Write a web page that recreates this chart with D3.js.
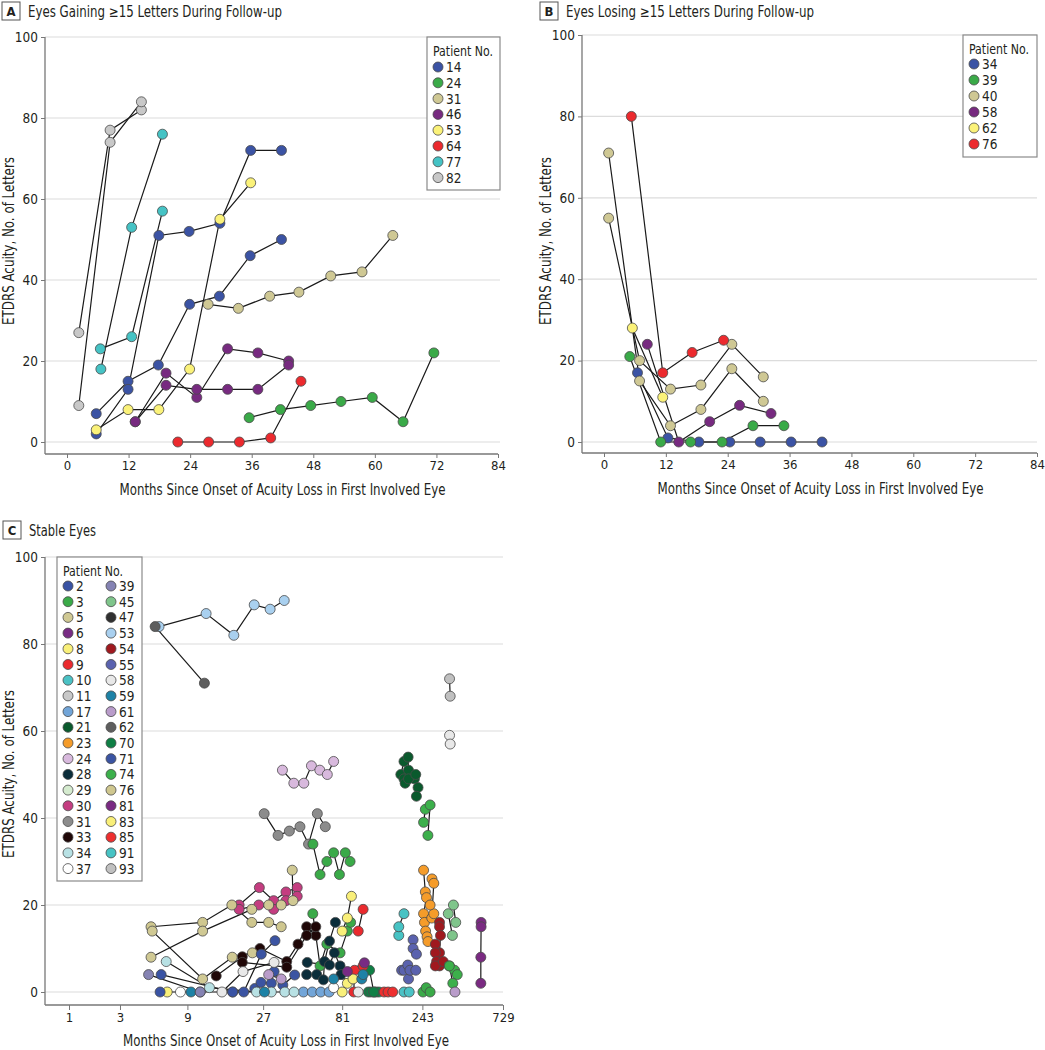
<!DOCTYPE html>
<html><head><meta charset="utf-8">
<script src="https://cdn.jsdelivr.net/npm/d3@7"></script>
<style>
body{margin:0;background:#fff}
svg{display:block}
text{font-family:"DejaVu Sans Condensed","DejaVu Sans",Roboto,sans-serif;fill:#231f20}
</style></head>
<body><svg id="chart" width="1045" height="1050"></svg>
<script>
// ---------- DATA ----------
const monthTicksAB = [0,12,24,36,48,60,72,84];
const monthTicksC = [1,3,9,27,81,243,729];
const acuityTicks = [0,20,40,60,80,100];

const patientsA = [14,24,31,46,53,64,77,82];
const colorsA = ["#3b53a4","#3aaa48","#cfc894","#772a80","#fbf279","#ec2a2e","#45c3c5","#c8c8c8"];
const seriesA = [
  {p:14, pts:[[5.7,7],[11.9,15],[17.8,19],[23.9,34],[29.7,36],[35.7,46],[41.8,50]]},
  {p:14, pts:[[5.7,2],[11.9,13],[17.9,51],[23.8,52],[29.8,54],[35.8,72],[41.8,72]]},
  {p:24, pts:[[35.5,6],[41.6,8],[47.5,9],[53.4,10],[59.5,11],[65.5,5],[71.5,22]]},
  {p:31, pts:[[27.5,34],[33.4,33],[39.5,36],[45.2,37],[51.4,41],[57.5,42],[63.5,51]]},
  {p:46, pts:[[13.3,5],[19.3,17],[25.3,11],[31.3,23],[37.2,22],[43.2,20]]},
  {p:46, pts:[[13.3,5],[19.3,14],[25.3,13],[31.3,13],[37.2,13],[43.2,19]]},
  {p:53, pts:[[5.7,3],[11.9,8],[17.9,8],[23.9,18],[29.8,55],[35.8,64]]},
  {p:64, pts:[[21.6,0],[27.6,0],[33.6,0],[39.7,1],[45.6,15]]},
  {p:77, pts:[[6.5,23],[12.6,26],[18.6,57]]},
  {p:77, pts:[[6.6,18],[12.6,53],[18.6,76]]},
  {p:82, pts:[[2.3,27],[8.4,77],[14.5,82]]},
  {p:82, pts:[[2.3,9],[8.4,74],[14.5,84]]}
];

const patientsB = [34,39,40,58,62,76];
const colorsB = ["#3b53a4","#3aaa48","#cfc894","#772a80","#fbf279","#ec2a2e"];
const seriesB = [
  {p:34, pts:[[6.5,17],[12.4,1],[18.4,0],[24.4,0],[30.3,0],[36.3,0],[42.3,0]]},
  {p:39, pts:[[5.0,21],[11.0,0],[16.8,0],[22.9,0],[28.9,4],[34.9,4]]},
  {p:40, pts:[[0.9,71],[6.9,15],[12.9,4],[18.8,8],[24.8,18],[30.9,10]]},
  {p:40, pts:[[0.9,55],[6.9,20],[12.9,13],[18.8,14],[24.8,24],[30.9,16]]},
  {p:58, pts:[[8.4,24],[14.5,0],[20.5,5],[26.3,9],[32.4,7]]},
  {p:62, pts:[[5.5,28],[11.4,11]]},
  {p:76, pts:[[5.3,80],[11.4,17],[17.1,22],[23.2,25]]}
];

const patientsC = [2,3,5,6,8,9,10,11,17,21,23,24,28,29,30,31,33,34,37,
                   39,45,47,53,54,55,58,59,61,62,70,71,74,76,81,83,85,91,93];
const colorsC = ["#3953a4","#3aaa48","#d0c994","#782b84","#f9f07a","#ea2a2e","#4bc2c5","#c8c8c8","#72a5d8","#0a5a2d","#f59c2a","#d8b9dd","#0b2d3a","#d5ebcf","#c43d80","#8c8c8c","#1f0707","#b8e1e4","#ffffff",
                 "#8583b3","#7fc58b","#303030","#a9d0ef","#a0191f","#5a62ae","#e8e8e8","#1d82a6","#b99cca","#5e5e5e","#0f7f45","#3b54a2","#3cb04b","#cfc78f","#7a2a82","#f9ef79","#ee2f2f","#47c3c4","#c0c0c0"];
const seriesC = [
  {p:53, pts:[[5.8,84],[11.9,87],[17.8,82],[23.8,89],[29.8,88],[36.3,90]]},
  {p:62, pts:[[5.45,84],[11.6,71]]},
  {p:24, pts:[[35.4,51],[41.5,48],[47.7,48],[53,52],[59.5,51],[66,50],[72,53]]},
  {p:31, pts:[[27.4,41],[33.3,36],[39,37],[45.2,38],[50.9,34],[57.5,41],[64.2,38]]},
  {p:3,  pts:[[54.1,34],[59.7,27],[65.6,30],[72,32],[78,27],[84.6,32],[90.3,30]]},
  {p:3,  pts:[[54,18],[59.7,6],[65.6,11],[78.7,9],[87,14],[91,16]]},
  {p:21, pts:[[181,50],[189,53],[200,54],[201,51],[218,49],[229,47]]},
  {p:21, pts:[[189,49],[192,48],[201,49],[222,50],[224,45]]},
  {p:74, pts:[[247,39],[253,42]]},
  {p:74, pts:[[262,36],[270,43]]},
  {p:93, pts:[[352,72],[355,68]]},
  {p:58, pts:[[352,59],[355,57]]},
  {p:81, pts:[[541,16],[541,15],[539,8],[539,2]]},
  {p:23, pts:[[247,28],[253,23],[257,21.7],[247,18],[250,16],[254,14],[259,12.7],[262,11.6]]},
  {p:23, pts:[[277,26],[284,25],[276,17],[284,18],[270,20]]},
  {p:54, pts:[[307,16],[307,15],[311,13],[307,9],[307,6]]},
  {p:54, pts:[[290,11],[290,9],[295,7],[290,6],[323,7]]},
  {p:45, pts:[[346,18],[366,13]]},
  {p:45, pts:[[371,20],[383,16]]},
  {p:74, pts:[[351,6],[377,5],[391,4]]},
  {p:74, pts:[[351,6],[368,2]]},
  {p:3,  pts:[[245,0],[256,1],[270,0]]},
  {p:55, pts:[[214,12],[214,10],[224,8.7]]},
  {p:55, pts:[[183,5],[189,5],[199,6.2],[201,3],[205,5],[222,5]]},
  {p:91, pts:[[176,13],[176,15],[189,18]]},
  {p:10, pts:[[189,0],[203,0]]},
  {p:70, pts:[[116,0],[120,0],[125,0],[129,0],[134,0]]},
  {p:70, pts:[[118,5],[125,0]]},
  {p:85, pts:[[144,0],[152,0],[162,0]]},
  {p:9,  pts:[[101,14],[108,19]]},
  {p:9,  pts:[[95,0],[96,5],[108,6]]},
  {p:83, pts:[[81,14],[87,17],[92,22]]},
  {p:8,  pts:[[81,0],[87,2],[94,3]]},
  {p:8,  pts:[[6.6,0]]},
  {p:33, pts:[[13.8,3.7],[20.1,8.1],[25.8,10],[37.6,7],[44,11],[49.6,15],[56.3,13]]},
  {p:33, pts:[[20.1,6.8],[37.6,5.7],[49.6,13],[56.3,15]]},
  {p:28, pts:[[49.6,4],[57,4],[62.5,2.8],[63.5,7],[68,11.7],[73.8,16]]},
  {p:28, pts:[[50,6.8],[68,6.2],[72.8,9],[78.7,6],[79.7,4]]},
  {p:30, pts:[[19.2,20],[25.6,24],[31.3,21],[37.2,23],[43.5,24]]},
  {p:30, pts:[[19.2,19],[25.4,20],[31.3,19],[37.2,21],[43.5,22]]},
  {p:76, pts:[[5.1,15],[11.3,16],[17.3,20],[23,16],[29.2,16],[34.8,15]]},
  {p:5,  pts:[[5.2,14],[11.3,3],[17.4,8],[23.2,9]]},
  {p:5,  pts:[[5.1,8],[11.3,14],[23,19],[29.2,20],[34.8,20],[41,21],[40.6,28]]},
  {p:71, pts:[[17.5,0],[20.5,0],[26.3,8.7],[31.9,11.8]]},
  {p:71, pts:[[24,0.8],[26.2,2.2],[30.3,2],[31.5,4.7],[35.6,1.6],[42,3.9]]},
  {p:17, pts:[[47.4,0],[53.6,0],[60.3,0],[67.7,0]]},
  {p:34, pts:[[6.5,7],[12.5,1],[24.6,0],[30.3,0],[36.6,0],[41.6,0]]},
  {p:37, pts:[[8.1,0]]},
  {p:37, pts:[[72,1]]},
  {p:58, pts:[[15,0],[20.3,4.7],[31.5,6.8]]},
  {p:58, pts:[[101,0]]},
  {p:59, pts:[[9.5,0],[27.5,0]]},
  {p:59, pts:[[72,3],[106,3],[108,4]]},
  {p:2,  pts:[[5.9,0],[10.9,0]]},
  {p:2,  pts:[[6,4],[17.5,0]]},
  {p:39, pts:[[4.9,4],[10.9,0]]},
  {p:6,  pts:[[87,4.7],[110,6.7]]},
  {p:61, pts:[[29.2,4],[34.8,3]]},
  {p:61, pts:[[379,0]]}
];

const titles = ["Eyes Gaining \u226515 Letters During Follow-up","Eyes Losing \u226515 Letters During Follow-up","Stable Eyes"];
const xTitle = "Months Since Onset of Acuity Loss in First Involved Eye";
const yTitle = "ETDRS Acuity, No. of Letters";

// ---------- DRAW ----------
const svg = d3.select("#chart");
const R = 5;
function fit(sel, w){ return sel.attr("textLength", w).attr("lengthAdjust","spacingAndGlyphs"); }

function panel(cfg){
  const g = svg.append("g");
  const {x, y, left, bottom, right, xEnd} = cfg;
  g.selectAll(".grid").data(acuityTicks).join("line")
    .attr("x1", left).attr("x2", right)
    .attr("y1", d=>y(d)).attr("y2", d=>y(d))
    .attr("stroke","#dcdcdc").attr("stroke-width",1.2);
  const ya = g.append("g").attr("transform",`translate(${left},0)`)
    .call(d3.axisLeft(y).tickValues(acuityTicks).tickSize(4).tickPadding(3));
  ya.select(".domain").remove();
  ya.selectAll("text").style("font-size","13.5px").style("font-family",null);
  ya.selectAll("line").attr("stroke","#777");
  g.append("line").attr("x1",left).attr("x2",left).attr("y1",y(100)).attr("y2",bottom)
    .attr("stroke","#777").attr("stroke-width",1.3);
  const xa = g.append("g").attr("transform",`translate(0,${bottom})`).call(cfg.xAxis);
  xa.select(".domain").remove();
  xa.selectAll("text").style("font-size","13px").style("font-family",null);
  xa.selectAll("line").attr("stroke","#777");
  g.append("line").attr("x1",left).attr("x2",xEnd).attr("y1",bottom).attr("y2",bottom)
    .attr("stroke","#777").attr("stroke-width",1.3);
  fit(g.append("text").attr("x",cfg.xTitleX).attr("y",bottom+41).attr("text-anchor","middle")
    .style("font-size","15px").text(xTitle), 326);
  fit(g.append("text").attr("transform",`translate(${left-31},${cfg.yTitleY}) rotate(-90)`)
    .attr("text-anchor","middle").style("font-size","15px").text(yTitle), 168);
  const tb = g.append("g").attr("transform",`translate(${cfg.tx},${cfg.ty})`);
  tb.append("rect").attr("x",0).attr("y",0).attr("width",18).attr("height",18)
    .attr("fill","#fff").attr("stroke","#555").attr("stroke-width",1);
  tb.append("text").attr("x",9).attr("y",14).attr("text-anchor","middle")
    .style("font-size","13px").style("font-weight","bold").text(cfg.letter);
  fit(tb.append("text").attr("x",26).attr("y",14.5).style("font-size","15px").text(cfg.title), cfg.titleW);
  const color = d3.scaleOrdinal().domain(cfg.patients).range(cfg.colors);
  const line = d3.line().x(d=>x(d[0])).y(d=>y(d[1]));
  g.selectAll(".ln").data(cfg.series).join("path")
    .attr("d", d=>line(d.pts)).attr("fill","none")
    .attr("stroke","#1a1a1a").attr("stroke-width",1.2);
  cfg.series.forEach(s=>{
    g.selectAll(null).data(s.pts).join("circle")
      .attr("cx",d=>x(d[0])).attr("cy",d=>y(d[1])).attr("r",R)
      .attr("fill",color(s.p)).attr("stroke","#4a4a4a").attr("stroke-width",0.8);
  });
  const L = cfg.legend;
  const lg = g.append("g");
  lg.append("rect").attr("x",L.x).attr("y",L.y).attr("width",L.w).attr("height",L.h)
    .attr("fill","#fff").attr("stroke","#8a8a8a").attr("stroke-width",1.2);
  fit(lg.append("text").attr("x",L.x+6).attr("y",L.y+19).style("font-size","14px").text("Patient No."), 60);
  cfg.patients.forEach((p,i)=>{
    const col = Math.floor(i/L.perCol), row = i%L.perCol;
    const cx = L.x+11+col*L.colW, cy = L.y+L.first+row*L.step;
    lg.append("circle").attr("cx",cx).attr("cy",cy).attr("r",R)
      .attr("fill",color(p)).attr("stroke","#4a4a4a").attr("stroke-width",0.8);
    lg.append("text").attr("x",cx+8).attr("y",cy+5).style("font-size","13.5px").text(p);
  });
}

const xA = d3.scaleLinear().domain([0,84]).range([67,498]);
const yA = d3.scaleLinear().domain([0,100]).range([442,37]);
panel({x:xA, y:yA, left:45, bottom:454, right:500, xEnd:498,
  xAxis: d3.axisBottom(xA).tickValues(monthTicksAB).tickSize(4).tickPadding(3),
  xTitleX:(xA(0)+xA(84))/2, yTitleY:241, tx:2, ty:2, letter:"A", title:titles[0], titleW:254,
  patients:patientsA, colors:colorsA, series:seriesA,
  legend:{x:427,y:37,w:73,h:153,first:30,step:15.8,perCol:8,colW:0}});

const xB = d3.scaleLinear().domain([0,84]).range([604,1037]);
const yB = d3.scaleLinear().domain([0,100]).range([442,35]);
panel({x:xB, y:yB, left:582, bottom:453, right:1037, xEnd:1037,
  xAxis: d3.axisBottom(xB).tickValues(monthTicksAB).tickSize(4).tickPadding(3),
  xTitleX:(xB(0)+xB(84))/2, yTitleY:241, tx:540, ty:2, letter:"B", title:titles[1], titleW:248,
  patients:patientsB, colors:colorsB, series:seriesB,
  legend:{x:963,y:35,w:74,h:122,first:29,step:16,perCol:6,colW:0}});

const xCl = d3.scaleLog().base(3).domain([2,730]).range([69,503]);
const xC = v => xCl(v+1);
const yC = d3.scaleLinear().domain([0,100]).range([992,557]);
panel({x:xC, y:yC, left:45, bottom:1005, right:503, xEnd:503,
  xAxis: d3.axisBottom(xCl).tickValues(monthTicksC.map(t=>t+1)).tickFormat(d=>d-1).tickSize(5).tickPadding(3),
  xTitleX:(xCl(2)+xCl(730))/2, yTitleY:774, tx:3, ty:521, letter:"C", title:titles[2], titleW:67,
  patients:patientsC, colors:colorsC, series:seriesC,
  legend:{x:57,y:557,w:85,h:324,first:29,step:15.7,perCol:19,colW:43}});
</script>
</body></html>
